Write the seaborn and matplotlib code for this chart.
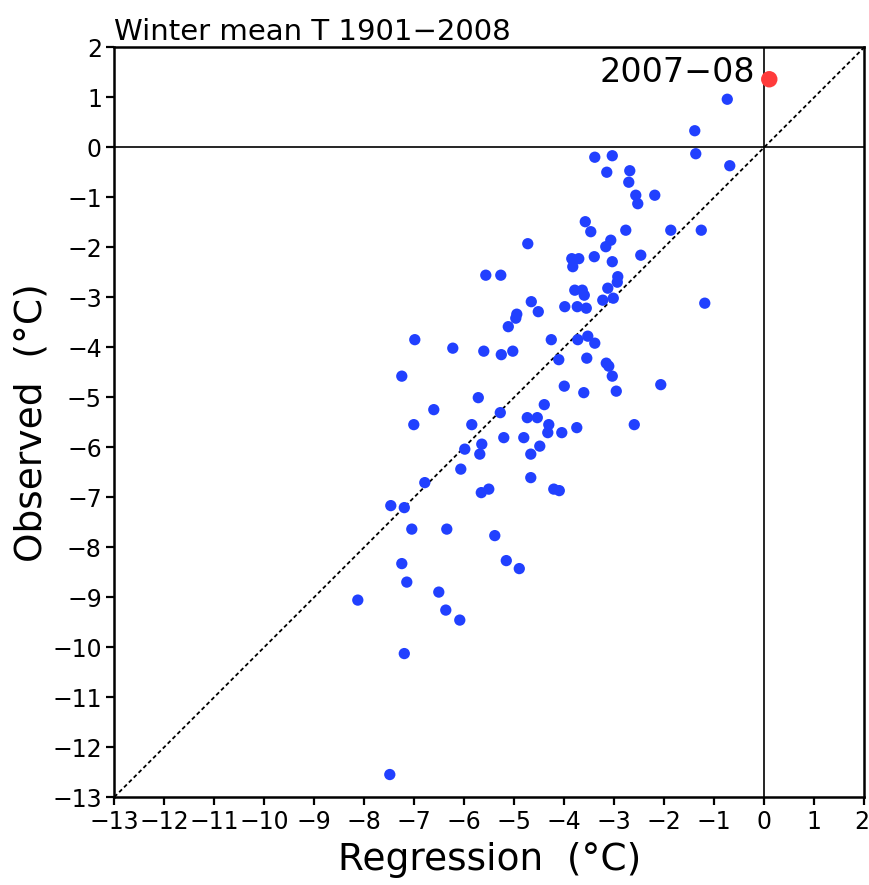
import matplotlib
matplotlib.use("Agg")
import matplotlib.pyplot as plt
import matplotlib.transforms as mtransforms
import seaborn as sns
import pandas as pd

# Regression (x) and observed (y) winter mean temperatures, 1901-02 .. 2006-07
regression = [-0.74, -1.39, -1.37, -0.69, -3.39, -3.04, -3.15, -2.69, -2.71, -2.57,
              -2.19, -2.53, -3.58, -3.47, -2.77, -1.87, -1.26, -4.73, -3.07, -3.17,
              -3.85, -3.71, -3.83, -3.40, -3.04, -2.47, -5.57, -5.27, -2.93, -2.94,
              -3.79, -3.64, -3.60, -3.13, -3.23, -3.02, -1.19, -4.66, -4.52, -3.99,
              -3.74, -3.56, -4.95, -4.97, -5.12, -6.99, -4.26, -3.73, -3.53, -3.39,
              -6.23, -5.61, -5.26, -5.03, -4.11, -3.55, -3.16, -3.11, -3.04, -7.25,
              -4.00, -3.61, -2.96, -2.07, -5.72, -6.61, -5.28, -4.40, -4.74, -4.54,
              -4.31, -4.33, -4.05, -3.75, -2.60, -7.01, -5.85, -5.21, -4.81, -5.65,
              -5.69, -5.99, -4.49, -4.67, -6.07, -4.67, -6.79, -5.66, -5.51, -4.21,
              -4.10, -7.47, -7.20, -7.05, -6.35, -5.39, -7.25, -5.16, -4.90, -7.15,
              -8.13, -6.51, -6.37, -6.09, -7.20, -7.49]
observed = [0.96, 0.33, -0.13, -0.37, -0.20, -0.17, -0.50, -0.47, -0.70, -0.96,
            -0.96, -1.13, -1.49, -1.69, -1.66, -1.66, -1.66, -1.93, -1.86, -1.99,
            -2.23, -2.23, -2.39, -2.19, -2.29, -2.16, -2.56, -2.56, -2.59, -2.70,
            -2.86, -2.86, -2.96, -2.82, -3.06, -3.02, -3.12, -3.09, -3.29, -3.19,
            -3.19, -3.22, -3.34, -3.42, -3.59, -3.85, -3.85, -3.85, -3.78, -3.92,
            -4.02, -4.08, -4.15, -4.08, -4.25, -4.22, -4.32, -4.38, -4.58, -4.58,
            -4.78, -4.91, -4.88, -4.75, -5.01, -5.25, -5.31, -5.15, -5.41, -5.41,
            -5.55, -5.71, -5.71, -5.61, -5.55, -5.55, -5.55, -5.81, -5.81, -5.94,
            -6.14, -6.04, -5.98, -6.14, -6.44, -6.61, -6.71, -6.91, -6.84, -6.84,
            -6.87, -7.17, -7.21, -7.64, -7.64, -7.77, -8.33, -8.27, -8.43, -8.70,
            -9.06, -8.90, -9.26, -9.46, -10.13, -12.55]

# Highlighted winter 2007-08
highlight_label = "2007\u221208"
highlight_reg = [0.10]
highlight_obs = [1.36]

ticks = list(range(-13, 3))
title = "Winter mean T 1901\u22122008"
xlabel = "Regression  (\u00b0C)"
ylabel = "Observed  (\u00b0C)"

sns.set_theme(style="white")
plt.rcParams["font.family"] = ["DejaVu Sans"]
plt.rcParams["axes.unicode_minus"] = True

fig = plt.figure(figsize=(8.7, 8.85), dpi=100)
ax = fig.add_axes([0.1314, 0.0994, 0.9934 - 0.1314, 0.9466 - 0.0994])

df = pd.DataFrame({"reg": regression, "obs": observed})
dfh = pd.DataFrame({"reg": highlight_reg, "obs": highlight_obs})

# reference lines
ax.axhline(0, color="black", lw=1.2, zorder=1)
ax.axvline(0, color="black", lw=1.2, zorder=1)
ax.plot([-13, 2], [-13, 2], color="black", lw=1.3, linestyle=(0, (2.2, 1.6)), zorder=1)

sns.scatterplot(data=df, x="reg", y="obs", ax=ax, color="#2140ff", s=66,
                edgecolor="none", linewidth=0, zorder=3)
sns.scatterplot(data=dfh, x="reg", y="obs", ax=ax, color="#ff3b3b", s=140,
                edgecolor="none", linewidth=0, zorder=4)

ax.text(-0.19, 1.31, highlight_label, ha="right", va="baseline", fontsize=24,
        color="black")

ax.set_xlim(-13, 2)
ax.set_ylim(-13, 2)
ax.set_xticks(ticks)
ax.set_yticks(ticks)
ax.set_xticklabels([f"{t}".replace("-", "\u2212") for t in ticks], fontsize=17)
ax.set_yticklabels([f"{t}".replace("-", "\u2212") for t in ticks], fontsize=17)
ax.tick_params(axis="both", direction="out", length=6, width=1.6, color="black",
               pad=3, labelcolor="black", bottom=True, left=True)
# keep the last x tick label inside the figure
last = ax.get_xticklabels()[-1]
last.set_transform(last.get_transform() +
                   mtransforms.ScaledTranslation(-3 / 100, 0, fig.dpi_scale_trans))
for sp in ax.spines.values():
    sp.set_visible(True)
    sp.set_color("black")
    sp.set_linewidth(1.8)

ax.set_xlabel(xlabel, fontsize=27, color="black", labelpad=6)
ax.set_ylabel(ylabel, fontsize=27, color="black", labelpad=2)
ax.set_title(title, loc="left", fontsize=21, color="black", pad=5)
ax.grid(False)

fig.savefig("out.png", dpi=100)
